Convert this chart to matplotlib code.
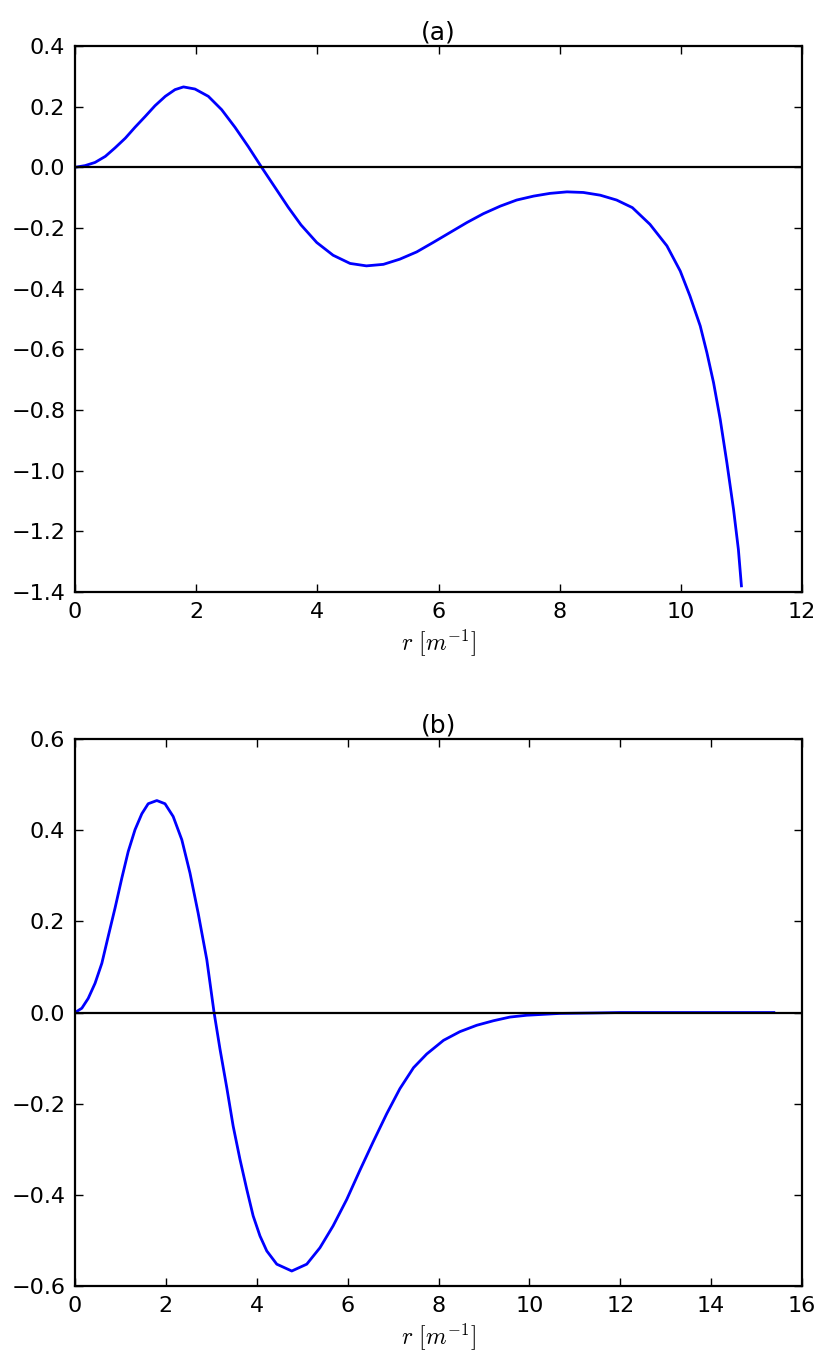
import numpy as np
import matplotlib
matplotlib.use("Agg")
import matplotlib.pyplot as plt

# values
r_a = [0.0, 0.165, 0.33, 0.50, 0.66, 0.83, 0.99, 1.16, 1.32, 1.49, 1.65, 1.79,
       1.98, 2.20, 2.42, 2.64, 2.86, 3.08, 3.30, 3.52, 3.73, 3.99, 4.26, 4.54,
       4.81, 5.09, 5.36, 5.64, 5.91, 6.19, 6.47, 6.74, 7.02, 7.29, 7.57, 7.84,
       8.12, 8.39, 8.67, 8.94, 9.20, 9.49, 9.77, 9.99, 10.15, 10.32, 10.43, 10.54,
       10.65, 10.76, 10.87, 10.95, 11.00]
u_a = [0.0, 0.0055, 0.016, 0.036, 0.064, 0.096, 0.132, 0.168, 0.203, 0.234, 0.256, 0.265,
       0.258, 0.234, 0.190, 0.132, 0.068, 0.0, -0.066, -0.132, -0.190, -0.248, -0.290, -0.317,
       -0.325, -0.320, -0.303, -0.279, -0.248, -0.215, -0.182, -0.153, -0.128, -0.108, -0.095, -0.086,
       -0.081, -0.083, -0.092, -0.108, -0.133, -0.188, -0.259, -0.342, -0.424, -0.523, -0.611, -0.710,
       -0.831, -0.974, -1.128, -1.260, -1.380]

r_b = [0.0, 0.15, 0.29, 0.44, 0.59, 0.73, 0.88, 1.03, 1.17, 1.32, 1.47, 1.61,
       1.80, 1.98, 2.16, 2.35, 2.53, 2.71, 2.90, 3.06, 3.19, 3.34, 3.48, 3.63,
       3.78, 3.92, 4.07, 4.22, 4.44, 4.77, 5.10, 5.39, 5.68, 5.98, 6.27, 6.56,
       6.86, 7.15, 7.45, 7.74, 8.11, 8.47, 8.84, 9.21, 9.57, 9.94, 10.67, 11.41,
       12.0, 15.38]
u_b = [0.0, 0.0095, 0.031, 0.064, 0.108, 0.167, 0.229, 0.295, 0.353, 0.401, 0.436, 0.458,
       0.465, 0.458, 0.430, 0.379, 0.306, 0.218, 0.116, 0.0, -0.080, -0.165, -0.249, -0.322,
       -0.388, -0.446, -0.490, -0.523, -0.552, -0.567, -0.552, -0.516, -0.468, -0.410, -0.346, -0.284,
       -0.222, -0.167, -0.121, -0.091, -0.061, -0.042, -0.028, -0.018, -0.010, -0.006, -0.002, -0.001,
       0.0, 0.0]

yticks_a = [-1.4, -1.2, -1.0, -0.8, -0.6, -0.4, -0.2, 0.0, 0.2, 0.4]
yticks_b = [-0.6, -0.4, -0.2, 0.0, 0.2, 0.4, 0.6]
xticks_a = [0, 2, 4, 6, 8, 10, 12]
xticks_b = [0, 2, 4, 6, 8, 10, 12, 14, 16]

plt.rcParams['mathtext.fontset'] = 'cm'
plt.rcParams['font.size'] = 16
for ax_name in ('xtick', 'ytick'):
    plt.rcParams[f'{ax_name}.direction'] = 'in'
    plt.rcParams[f'{ax_name}.major.size'] = 6
    plt.rcParams[f'{ax_name}.major.width'] = 1
    plt.rcParams[f'{ax_name}.major.pad'] = 7
plt.rcParams['xtick.top'] = True
plt.rcParams['ytick.right'] = True

fig = plt.figure(figsize=(8.31, 13.68), dpi=100)
ax1 = fig.add_axes([0.0903, 0.5673, 0.8748, 0.3991])
ax2 = fig.add_axes([0.0903, 0.0599, 0.8748, 0.3999])

panels = [(ax1, r_a, u_a, '(a)', xticks_a, yticks_a),
          (ax2, r_b, u_b, '(b)', xticks_b, yticks_b)]

for ax, r, u, title, xt, yt in panels:
    ax.plot(r, u, color='blue', lw=2, solid_joinstyle='round')
    ax.axhline(0, color='black', lw=1.6)
    ax.set_xticks(xt)
    ax.set_yticks(yt)
    ax.set_xlim(xt[0], xt[-1])
    ax.set_ylim(yt[0], yt[-1])
    ax.set_title(title, fontsize=18, pad=5)
    ax.set_xlabel(r'$r\ [m^{-1}]$', fontsize=17, labelpad=4)
    for s in ax.spines.values():
        s.set_linewidth(1.6)

fig.savefig('out.png', dpi=100)
